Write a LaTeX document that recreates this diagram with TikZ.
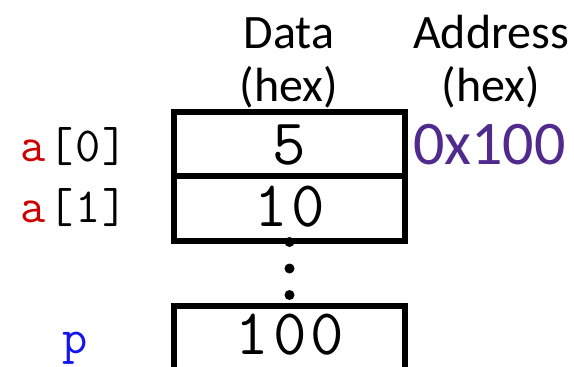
\documentclass[tikz,border=0pt]{standalone}
\usepackage{fontspec}
\setmainfont{Carlito}
\definecolor{lblred}{RGB}{204,0,0}
\definecolor{lblblue}{RGB}{20,20,240}
\definecolor{addrpurple}{RGB}{80,42,140}
\begin{document}
\begin{tikzpicture}[x=1pt,y=-1pt,
  cell/.style={draw=black,line width=5.5pt},
  hdr/.style={font=\fontsize{48}{54}\selectfont,align=center,inner sep=0pt,anchor=base},
  val/.style={font=\ttfamily\fontsize{65}{65}\selectfont,inner sep=0pt,anchor=base},
  lbl/.style={font=\ttfamily\fontsize{49}{49}\selectfont,inner sep=0pt,anchor=base west},
  dotc/.style={fill=black,circle,inner sep=0pt,minimum size=10pt}]
\useasboundingbox (0,0) rectangle (574,367);
\clip (0,0) rectangle (574,367);
% boxes
\draw[cell] (174,112) rectangle (405,176);
\draw[cell] (174,176) rectangle (405,241);
\draw[cell] (174,306) rectangle (405,375);
% headers
\node[hdr] (data) at (289,48) {Data};
\node[hdr] (datahex) at (289,101) {(hex)};
\node[hdr] (addr) at (491,48) {Address};
\node[hdr] (addrhex) at (491,101) {(hex)};
% values
\node[val] (v5) at (289.5,164) {5};
\node[val] (v10) at (289.5,226) {1\hspace{4pt}0};
\node[val] (v100) at (290,354) {1\hspace{4pt}0\hspace{4pt}0};
% address
\node[font=\fontsize{62}{62}\selectfont,text=addrpurple,inner sep=0pt,anchor=base west] (a100) at (413,164) {0x100};
% labels
\node[lbl] (a0) at (20,161) {\textcolor{lblred}{a}\hspace{3pt}[\hspace{2pt}0\hspace{2pt}]};
\node[lbl] (a1) at (20,222) {\textcolor{lblred}{a}\hspace{3pt}[\hspace{2pt}1\hspace{2pt}]};
\node[lbl,text=lblblue] (p) at (62,353) {p};
% dots
\node[dotc] (d1) at (289.5,242) {};
\node[dotc] (d2) at (289.5,268.5) {};
\node[dotc] (d3) at (289.5,295) {};
\end{tikzpicture}
\end{document}
